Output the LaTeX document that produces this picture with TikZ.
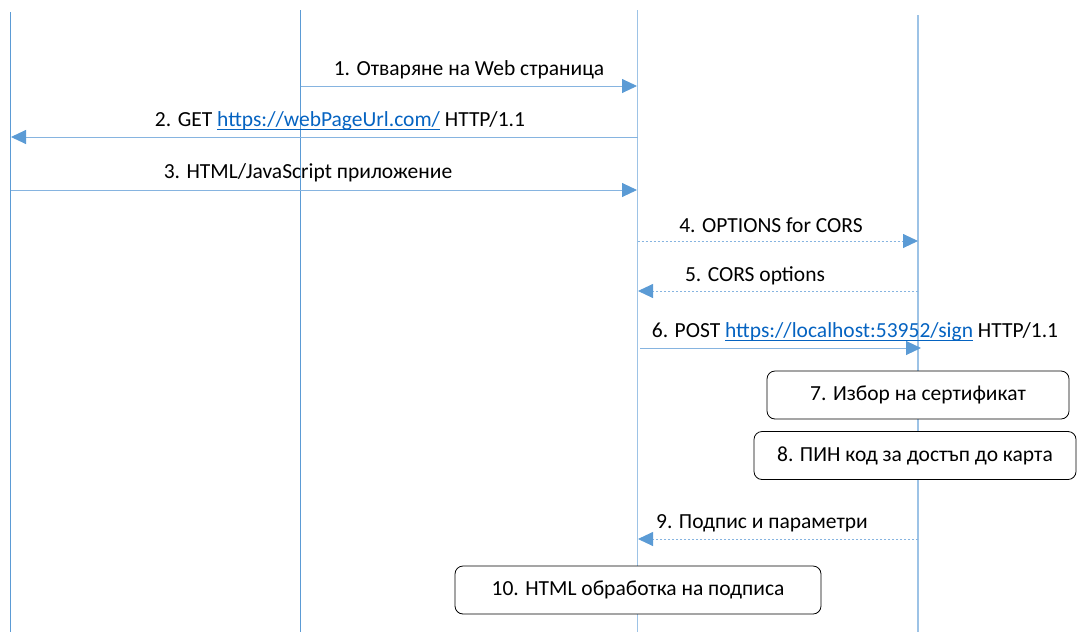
\documentclass[tikz,border=0pt]{standalone}
\usepackage{fontspec}
\setmainfont{Carlito}
\usetikzlibrary{arrows.meta}
\definecolor{lifeA}{HTML}{5B9BD5}
\definecolor{lifeB}{HTML}{9DC3E6}
\definecolor{msgline}{HTML}{86B4E0}
\definecolor{headblue}{HTML}{5B9BD5}
\definecolor{linkblue}{HTML}{0563C1}
\newcommand{\lnk}[1]{{\color{linkblue}\setbox0\hbox{#1}\rlap{\rule[-3.5pt]{\wd0}{1.6pt}}\box0}}
\tikzset{
  every node/.style={font=\fontsize{21.5}{25}\selectfont, inner sep=0pt},
  lifeline/.style={line width=1.2pt},
  msg/.style={draw=msgline, line width=0.9pt, -{Triangle[length=15pt,width=14pt,color=headblue]}},
  rmsg/.style={msg, dash pattern=on 2pt off 2pt},
  lbl/.style={anchor=center},
  actbox/.style={draw=black, line width=0.8pt, fill=white, rounded corners=8pt, minimum height=48pt, anchor=center}
}
\begin{document}
\begin{tikzpicture}[x=1pt,y=-1pt]
\useasboundingbox (0,0) rectangle (1078,632);
% lifelines
\coordinate (L1t) at (10.5,12); \coordinate (L1b) at (10.5,632);
\coordinate (L2t) at (300.5,10); \coordinate (L2b) at (300.5,632);
\coordinate (L3t) at (637.5,10); \coordinate (L3b) at (637.5,632);
\coordinate (L4t) at (918,15); \coordinate (L4b) at (918,632);
\draw[lifeline, draw=lifeA] (L1t) -- (L1b);
\draw[lifeline, draw=lifeA] (L2t) -- (L2b);
\draw[lifeline, draw=lifeB] (L3t) -- (L3b);
\draw[lifeline, draw=lifeB] (L4t) -- (L4b);
% message endpoints
\coordinate (m1a) at (300.5,86); \coordinate (m1b) at (637,86);
\coordinate (m2a) at (637.5,137); \coordinate (m2b) at (11,137);
\coordinate (m3a) at (10.5,190); \coordinate (m3b) at (637,190);
\coordinate (m4a) at (637.5,241); \coordinate (m4b) at (918,241);
\coordinate (m5a) at (918,291); \coordinate (m5b) at (638,291);
\coordinate (m6a) at (640,348); \coordinate (m6b) at (921,348);
\coordinate (m9a) at (918,539); \coordinate (m9b) at (638,539);
\draw[msg] (m1a) -- (m1b);
\draw[msg] (m2a) -- (m2b);
\draw[msg] (m3a) -- (m3b);
\draw[rmsg] (m4a) -- (m4b);
\draw[rmsg] (m5a) -- (m5b);
\draw[msg] (m6a) -- (m6b);
\draw[rmsg] (m9a) -- (m9b);
% labels
\node[lbl] (t1) at (469,70) {1. Отваряне на Web страница};
\node[lbl] (t2) at (340,121) {2. GET \lnk{https://webPageUrl.com/} HTTP/1.1};
\node[lbl] (t3) at (308,173) {3. HTML/JavaScript приложение};
\node[lbl] (t4) at (771,225) {4. OPTIONS for CORS};
\node[lbl] (t5) at (755,276) {5. CORS options};
\node[lbl] (t6) at (855,332) {6. POST \lnk{https://localhost:53952/sign} HTTP/1.1};
\node[lbl] (t9) at (762,523) {9. Подпис и параметри};
% activity boxes
\node[actbox, minimum width=302pt] (b7) at (918,395) {7. Избор на сертификат};
\node[actbox, minimum width=322pt] (b8) at (915,455.5) {8. ПИН код за достъп до карта};
\node[actbox, minimum width=366pt] (b10) at (638,590) {10. HTML обработка на подписа};
\end{tikzpicture}
\end{document}
